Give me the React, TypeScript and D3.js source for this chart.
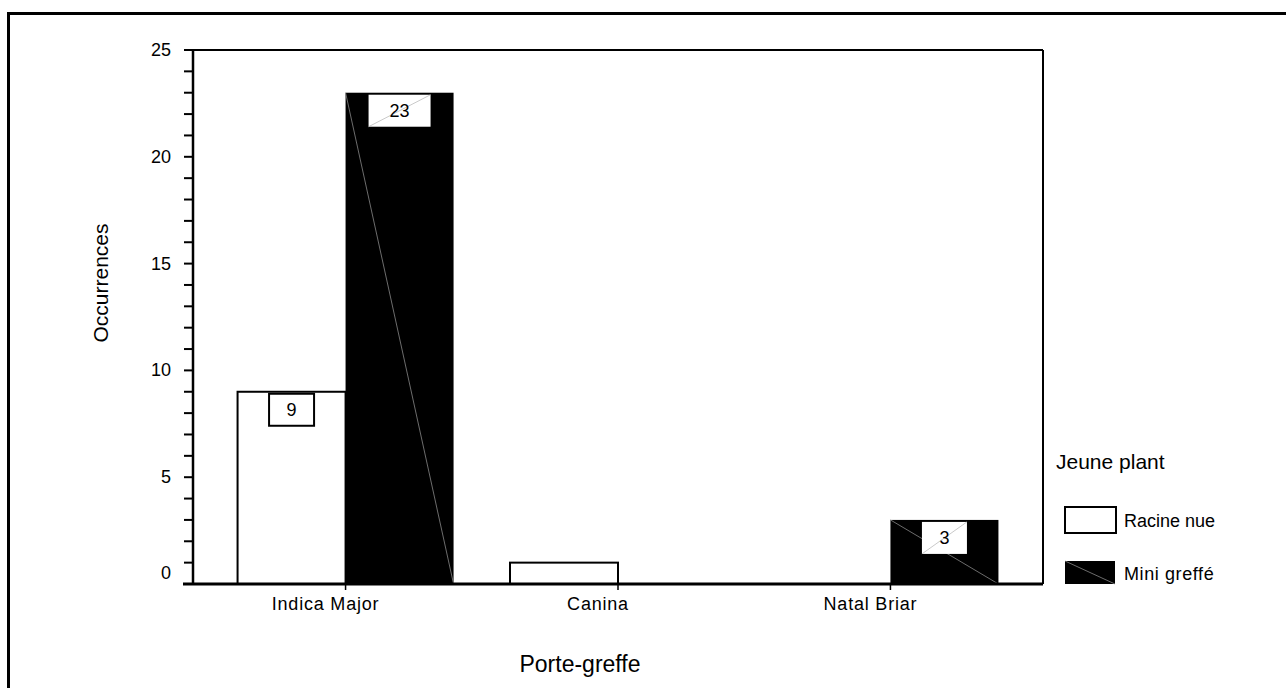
import React from "react";
import * as d3 from "d3";

const categories = ["Indica Major", "Canina", "Natal Briar"];
const racineNue = [9, 1, 0];
const miniGreffe = [23, 0, 3];
const majorTicks = [0, 5, 10, 15, 20, 25];
const minorTicks = d3.range(0, 26, 1);
const seriesNames = ["Racine nue", "Mini greffé"];
const legendTitle = "Jeune plant";
const xTitle = "Porte-greffe";
const yTitle = "Occurrences";

const FONT = "'Liberation Sans', Arial, sans-serif";

export default function App() {
  const W = 1286, H = 688;
  const left = 193, right = 1043, top = 50, bottom = 584;
  const y = d3.scaleLinear().domain([0, 25]).range([bottom, top]);
  const x = d3.scalePoint<string>().domain(categories).range([left, right]).padding(0.56);
  const bw = 108;

  const labelBox = (cx: number, v: number, onBlack: boolean, key: string) => {
    const t = String(v);
    const w = 28 + 17 * t.length;
    const h = 32;
    const bx = cx - w / 2;
    const by = y(v) + 2;
    return (
      <g key={key}>
        <rect x={bx} y={by} width={w} height={h} fill="#fff" stroke={onBlack ? "none" : "#000"} strokeWidth={2} />
        {onBlack && <line x1={bx} y1={by + h} x2={bx + w} y2={by} stroke="#bbb" strokeWidth={0.8} />}
        <text x={cx} y={by + h / 2} textAnchor="middle" dominantBaseline="central" fontSize={18} fontFamily={FONT}>{t}</text>
      </g>
    );
  };

  return (
    <svg width={W} height={H} style={{ position: "absolute", left: 0, top: 0, background: "#fff" }}>
      <rect x={8.5} y={13.5} width={1300} height={700} fill="#fff" stroke="#000" strokeWidth={3} />

      {/* bars */}
      {categories.map((c, i) => {
        const cx = x(c)!;
        const v1 = racineNue[i], v2 = miniGreffe[i];
        return (
          <g key={c}>
            <rect x={cx - bw} y={y(v1)} width={bw} height={bottom - y(v1)} fill="#fff" stroke="#000" strokeWidth={2} />
            {v2 > 0 && (
              <g>
                <rect x={cx} y={y(v2)} width={bw} height={bottom - y(v2)} fill="#000" />
                <line x1={cx} y1={y(v2)} x2={cx + bw} y2={bottom} stroke="#888" strokeWidth={0.8} />
              </g>
            )}
          </g>
        );
      })}
      {categories.map((c, i) => racineNue[i] > 1 ? labelBox(x(c)! - bw / 2, racineNue[i], false, "l1" + c) : null)}
      {categories.map((c, i) => miniGreffe[i] > 0 ? labelBox(x(c)! + bw / 2, miniGreffe[i], true, "l2" + c) : null)}

      {/* plot frame */}
      <line x1={184} y1={top} x2={right} y2={top} stroke="#000" strokeWidth={2} />
      <line x1={right} y1={top} x2={right} y2={bottom} stroke="#000" strokeWidth={2} />
      <line x1={left} y1={top} x2={left} y2={bottom} stroke="#000" strokeWidth={2.5} />
      <line x1={183} y1={bottom} x2={right} y2={bottom} stroke="#000" strokeWidth={3} />

      {/* y ticks */}
      {minorTicks.map(t => (
        <line key={"m" + t} x1={184} x2={left} y1={y(t)} y2={y(t)} stroke="#000" strokeWidth={2} />
      ))}
      {majorTicks.map(t => (
        <text key={"t" + t} x={171} y={t === 0 ? y(t) - 11 : y(t)} textAnchor="end" dominantBaseline="central" fontSize={18} fontFamily={FONT}>{t}</text>
      ))}

      {/* x ticks */}
      {categories.map(c => (
        <g key={"xt" + c}>
          <line x1={x(c)!} x2={x(c)!} y1={bottom} y2={bottom + 6} stroke="#000" strokeWidth={1.5} />
          <text x={x(c)! - 20} y={604} textAnchor="middle" dominantBaseline="central" fontSize={18} fontFamily={FONT} letterSpacing={0.8}>{c}</text>
        </g>
      ))}

      <text x={580} y={664} textAnchor="middle" dominantBaseline="central" fontSize={23} fontFamily={FONT}>{xTitle}</text>
      <text transform={`translate(100,283) rotate(-90)`} textAnchor="middle" dominantBaseline="central" fontSize={21} fontFamily={FONT}>{yTitle}</text>

      {/* legend */}
      <text x={1056} y={461} dominantBaseline="central" fontSize={21} fontFamily={FONT}>{legendTitle}</text>
      <rect x={1065} y={507} width={51} height={26} fill="#fff" stroke="#000" strokeWidth={2} />
      <text x={1124} y={521} dominantBaseline="central" fontSize={18} fontFamily={FONT}>{seriesNames[0]}</text>
      <rect x={1065} y={561} width={50} height={23} fill="#000" />
      <line x1={1065} y1={561} x2={1115} y2={584} stroke="#888" strokeWidth={0.8} />
      <text x={1124} y={574} dominantBaseline="central" fontSize={18} fontFamily={FONT} letterSpacing={0.6}>{seriesNames[1]}</text>
    </svg>
  );
}
